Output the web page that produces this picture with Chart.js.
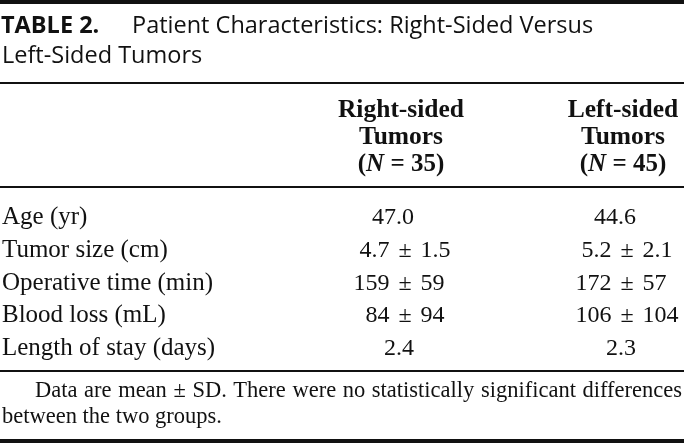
<!DOCTYPE html>
<html lang="en">
<head>
<meta charset="utf-8"/>
<title>Table 2</title>
<script src="https://cdn.jsdelivr.net/npm/chart.js@4.4.0/dist/chart.umd.min.js"></script>
<style>
    html, body { margin: 0; padding: 0; background: #fff; }
    #wrap { width: 684px; height: 443px; }
</style>
</head>
<body>
<div id="wrap"><canvas id="chart1" width="684" height="443"></canvas></div>
<script>
    // table content
    const tableLabel = 'TABLE 2.';
    const tableTitle = ['Patient Characteristics: Right-Sided Versus', 'Left-Sided Tumors'];
    const rowLabels = ['Age (yr)', 'Tumor size (cm)', 'Operative time (min)', 'Blood loss (mL)', 'Length of stay (days)'];
    const groupNames = ['Right-sided', 'Left-sided'];
    const groupN = [35, 45];
    const decimals = [1, 1, 0, 0, 1];
    const rightMean = [47.0, 4.7, 159, 84, 2.4];
    const rightSD = [null, 1.5, 59, 94, null];
    const leftMean = [44.6, 5.2, 172, 106, 2.3];
    const leftSD = [null, 2.1, 57, 104, null];
    const footnote = ['Data are mean \u00b1 SD. There were no statistically significant differences', 'between the two groups.'];

    const serif = '"Liberation Serif", "Times New Roman", serif';
    const sans = '"Open Sans", "Noto Sans", sans-serif';
    const ink = '#111';

    function fmt(v, i) {
        return v.toFixed(decimals[i]);
    }

    function justify(ctx, text, x0, x1, base) {
        var words = text.split(' ');
        var total = 0;
        words.forEach(function (w) { total += ctx.measureText(w).width; });
        var gap = (x1 - x0 - total) / (words.length - 1);
        var x = x0;
        words.forEach(function (w) {
            ctx.fillText(w, x, base);
            x += ctx.measureText(w).width + gap;
        });
    }

    const tablePlugin = {
        id: 'tablePlugin',
        beforeDraw(chart) {
            var ctx = chart.ctx;
            ctx.save();
            ctx.fillStyle = '#fff';
            ctx.fillRect(0, 0, chart.width, chart.height);
            ctx.restore();
        },
        afterDatasetsDraw(chart) {
            var ctx = chart.ctx;
            var xs = chart.scales.x, ys = chart.scales.y;
            var W = chart.width;
            ctx.save();
            ctx.fillStyle = ink;
            ctx.textBaseline = 'alphabetic';

            // rules
            ctx.fillRect(0, 0, W, 4);
            ctx.fillRect(0, 82, W, 2);
            ctx.fillRect(0, 186, W, 2);
            ctx.fillRect(0, 370, W, 2);
            ctx.fillRect(0, 439, W, 4);

            // title
            ctx.textAlign = 'left';
            ctx.font = 'bold 23.5px ' + sans;
            ctx.fillText(tableLabel, 1, 33);
            ctx.font = '23.5px ' + sans;
            ctx.fillText(tableTitle[0], 132, 33);
            ctx.fillText(tableTitle[1], 2, 63);

            // column headers
            groupNames.forEach(function (g, k) {
                var cx = xs.getPixelForValue(k) - 4;
                ctx.font = 'bold 25.5px ' + serif;
                ctx.textAlign = 'center';
                ctx.fillText(g, cx, 117);
                ctx.fillText('Tumors', cx, 144);
                var p1 = '(', p2 = 'N', p3 = ' = ' + groupN[k] + ')';
                ctx.font = 'bold 25px ' + serif;
                var w1 = ctx.measureText(p1).width, w3 = ctx.measureText(p3).width;
                ctx.font = 'italic bold 25px ' + serif;
                var w2 = ctx.measureText(p2).width;
                var sx = cx - (w1 + w2 + w3) / 2;
                ctx.textAlign = 'left';
                ctx.font = 'bold 25px ' + serif;
                ctx.fillText(p1, sx, 171);
                ctx.font = 'italic bold 25px ' + serif;
                ctx.fillText(p2, sx + w1, 171);
                ctx.font = 'bold 25px ' + serif;
                ctx.fillText(p3, sx + w1 + w2, 171);
            });

            // row labels
            ctx.font = '25px ' + serif;
            ctx.textAlign = 'left';
            rowLabels.forEach(function (r, i) {
                ctx.fillText(r, 2, ys.getPixelForValue(i) + 8);
            });

            // cells, placed by the dataset points
            ctx.font = '24px ' + serif;
            var pm = '\u00b1';
            var pmW = ctx.measureText(pm).width;
            var gap = 9;
            chart.data.datasets.forEach(function (ds, d) {
                var meta = chart.getDatasetMeta(d);
                meta.data.forEach(function (el, i) {
                    var cell = ds.data[i];
                    var base = el.y + 8;
                    if (cell.sd == null) {
                        ctx.textAlign = 'right';
                        ctx.fillText(fmt(cell.mean, i), el.x + 9, base);
                    } else {
                        ctx.textAlign = 'center';
                        ctx.fillText(pm, el.x, base);
                        ctx.textAlign = 'right';
                        ctx.fillText(fmt(cell.mean, i), el.x - pmW / 2 - gap, base);
                        ctx.textAlign = 'left';
                        ctx.fillText(fmt(cell.sd, i), el.x + pmW / 2 + gap, base);
                    }
                });
            });

            // footnote
            ctx.font = '22.5px ' + serif;
            ctx.textAlign = 'left';
            justify(ctx, footnote[0], 35, 682, 397);
            ctx.fillText(footnote[1], 2, 423);
            ctx.restore();
        }
    };

    function cells(name, means, sds) {
        return rowLabels.map(function (r, i) {
            return {x: name, y: r, mean: means[i], sd: sds[i]};
        });
    }

    var ch1 = document.getElementById('chart1').getContext('2d');
    var chart1 = new Chart(ch1, {
        type: 'line',
        data: {
            datasets: [
                {label: groupNames[0], data: cells(groupNames[0], rightMean, rightSD), showLine: false, pointRadius: 0},
                {label: groupNames[1], data: cells(groupNames[1], leftMean, leftSD), showLine: false, pointRadius: 0}
            ]
        },
        options: {
            responsive: false,
            animation: false,
            events: [],
            layout: {padding: {left: 405, right: 57, top: 200, bottom: 80}},
            plugins: {legend: {display: false}, tooltip: {enabled: false}},
            scales: {
                x: {type: 'category', labels: groupNames, offset: false, display: false},
                y: {type: 'category', labels: rowLabels, offset: true, display: false}
            }
        },
        plugins: [tablePlugin]
    });
</script>
</body>
</html>
